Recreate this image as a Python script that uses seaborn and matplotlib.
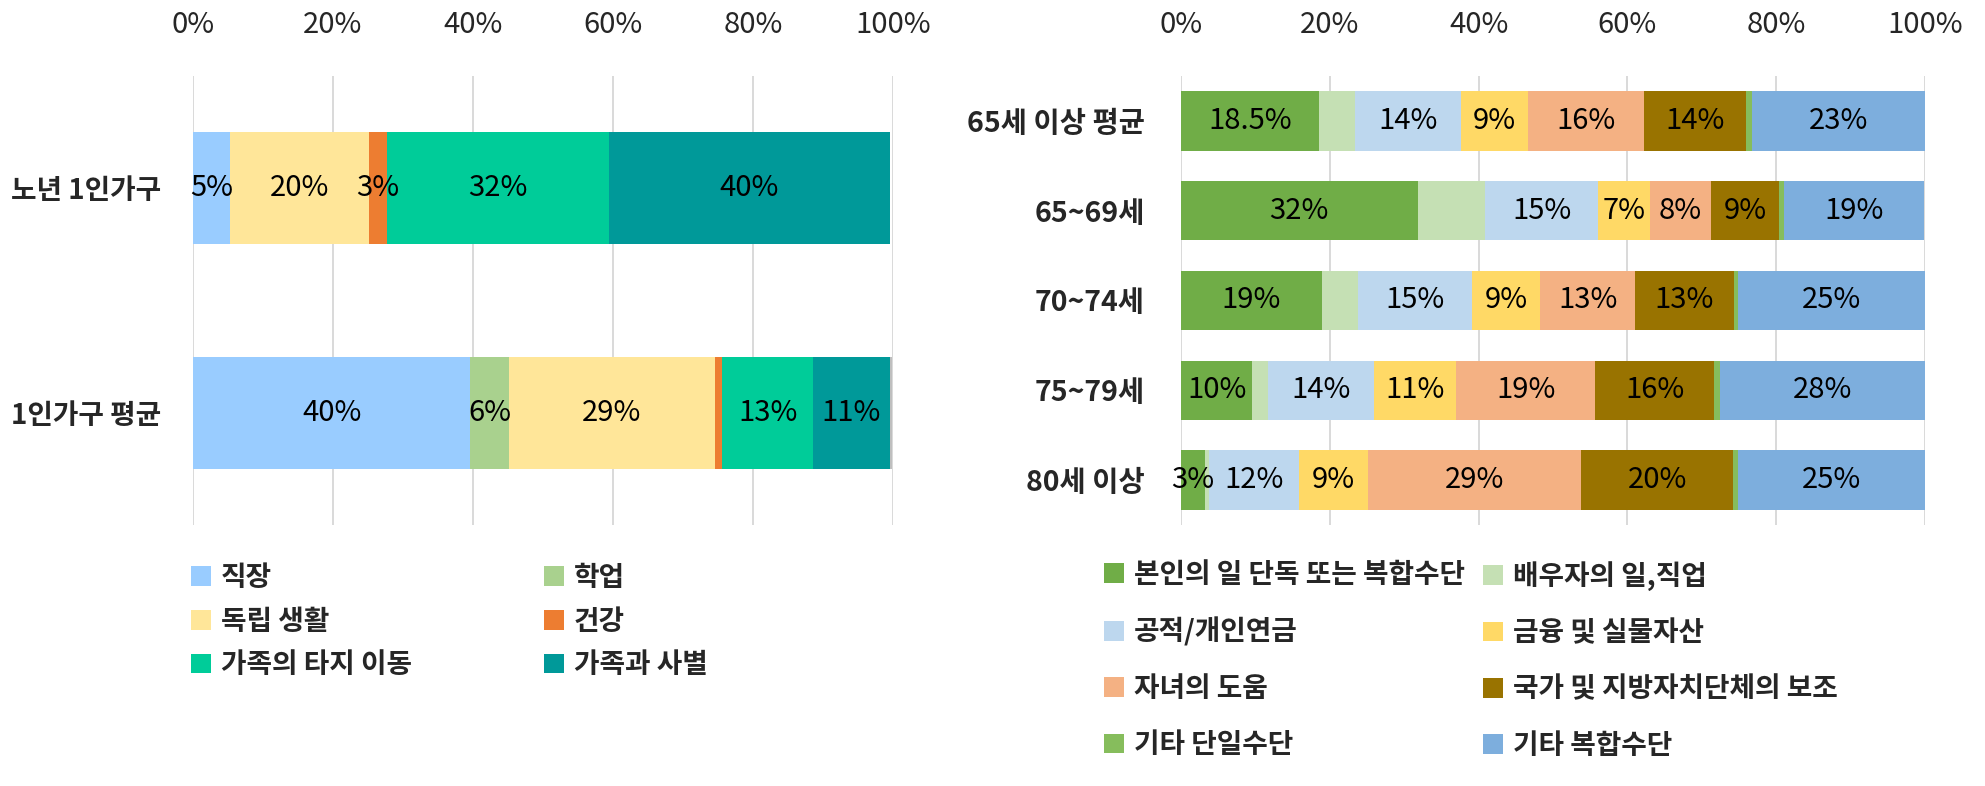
import numpy as np
import pandas as pd
import matplotlib
matplotlib.use("Agg")
import matplotlib.pyplot as plt
import seaborn as sns
from matplotlib.patches import Patch

# ---------------- data ----------------
left_cats = ["노년 1인가구", "1인가구 평균"]
left_series = ["직장", "학업", "독립 생활", "건강", "가족의 타지 이동", "가족과 사별"]
job = [5.3, 39.6]
study = [0.0, 5.6]
independence = [19.8, 29.3]
health = [2.6, 1.1]
family_moved = [31.7, 13.0]
family_lost = [40.2, 10.9]
left_other = [0.0, 0.4]
left_colors = ["#99CCFF", "#A9D18E", "#FFE699", "#ED7D31", "#00CC99", "#009999"]
left_other_color = "#BFBFBF"

right_cats = ["65세 이상 평균", "65~69세", "70~74세", "75~79세", "80세 이상"]
right_series = ["본인의 일 단독 또는 복합수단", "배우자의 일,직업", "공적/개인연금",
                "금융 및 실물자산", "자녀의 도움", "국가 및 지방자치단체의 보조",
                "기타 단일수단", "기타 복합수단"]
own_work = [18.5, 31.8, 18.9, 9.6, 3.2]
spouse_work = [4.9, 9.1, 4.9, 2.1, 0.6]
pension = [14.3, 15.2, 15.3, 14.2, 12.0]
assets = [8.9, 6.9, 9.2, 11.1, 9.4]
children = [15.6, 8.3, 12.7, 18.7, 28.6]
government = [13.7, 9.1, 13.3, 16.0, 20.4]
other_single = [0.8, 0.7, 0.5, 0.7, 0.7]
other_multi = [23.4, 18.8, 25.2, 27.6, 25.1]
right_colors = ["#70AD47", "#C5E0B4", "#BDD7EE", "#FFD966", "#F4B183", "#997300",
                "#86BD5C", "#7DAEDD"]
right_labeled = [True, False, True, True, True, True, False, True]

x_ticks = [0, 20, 40, 60, 80, 100]
x_ticklabels = ["0%", "20%", "40%", "60%", "80%", "100%"]

# ---------------- style ----------------
sns.set_style("white")
plt.rcParams["font.family"] = ["Noto Sans CJK KR", "DejaVu Sans"]

W, H = 1985, 786
fig = plt.figure(figsize=(W / 100, H / 100), dpi=100)

def fx(px):
    return px / W

def fy(py):
    return 1 - py / H

ax_l = fig.add_axes([fx(193), fy(525), fx(893) - fx(193), fy(76) - fy(525)])
ax_r = fig.add_axes([fx(1181), fy(525), fx(1925) - fx(1181), fy(76) - fy(525)])


def fmt(v):
    if round(v * 10) % 10 == 5:
        return f"{v:.1f}%"
    return f"{round(v)}%"


def stacked(ax, cats, layers, colors, width, labeled, min_label):
    data = np.array(layers, dtype=float)
    cum = data.cumsum(axis=0)
    for i in range(len(data) - 1, -1, -1):
        df = pd.DataFrame({"cat": cats, "val": cum[i]})
        sns.barplot(data=df, x="val", y="cat", orient="h", color=colors[i],
                    saturation=1, width=width, linewidth=0, errorbar=None, ax=ax)
    for i in range(len(data)):
        if not labeled[i]:
            continue
        for j in range(len(cats)):
            v = data[i, j]
            if v >= min_label:
                ax.text(cum[i, j] - v / 2, j, fmt(v), ha="center", va="center",
                        fontsize=21, color="black")


def style_axis(ax, ypad, ysize):
    ax.set_xlim(0, 100)
    ax.set_xticks(x_ticks)
    ax.set_xticklabels(x_ticklabels, fontsize=21)
    ax.xaxis.tick_top()
    ax.tick_params(axis="x", length=0, pad=26)
    ax.tick_params(axis="y", length=0, pad=ypad)
    for lab in ax.get_yticklabels():
        lab.set_fontsize(ysize)
        lab.set_fontweight("bold")
    ax.grid(axis="x", color="#D9D9D9", linewidth=1.4)
    ax.grid(axis="y", visible=False)
    ax.set_axisbelow(True)
    for s in ax.spines.values():
        s.set_visible(False)
    ax.set_xlabel("")
    ax.set_ylabel("")


left_layers = [job, study, independence, health, family_moved, family_lost, left_other]
stacked(ax_l, left_cats, left_layers, left_colors + [left_other_color], 0.5,
        [True] * 6 + [False], 2.0)
style_axis(ax_l, 23, 20)

right_layers = [own_work, spouse_work, pension, assets, children, government,
                other_single, other_multi]
stacked(ax_r, right_cats, right_layers, right_colors, 0.66, right_labeled, 2.0)
style_axis(ax_r, 26, 20.5)


def add_legend(names, colors, x_px, y_px, spacing):
    handles = [Patch(facecolor=c, edgecolor="none") for c in colors]
    leg = fig.legend(handles, names, loc="upper left",
                     bbox_to_anchor=(fx(x_px), fy(y_px)),
                     bbox_transform=fig.transFigure, frameon=False,
                     borderpad=0, borderaxespad=0, handlelength=0.72,
                     handleheight=0.72, handletextpad=0.36, labelspacing=spacing,
                     prop={"size": 20, "weight": "bold"})
    return leg


add_legend(left_series[0::2], left_colors[0::2], 191, 564, 0.56)
add_legend(left_series[1::2], left_colors[1::2], 544, 564, 0.56)
add_legend(right_series[0::2], right_colors[0::2], 1104, 561, 1.02)
add_legend(right_series[1::2], right_colors[1::2], 1483, 561, 1.02)

fig.savefig("out.png", dpi=100)
